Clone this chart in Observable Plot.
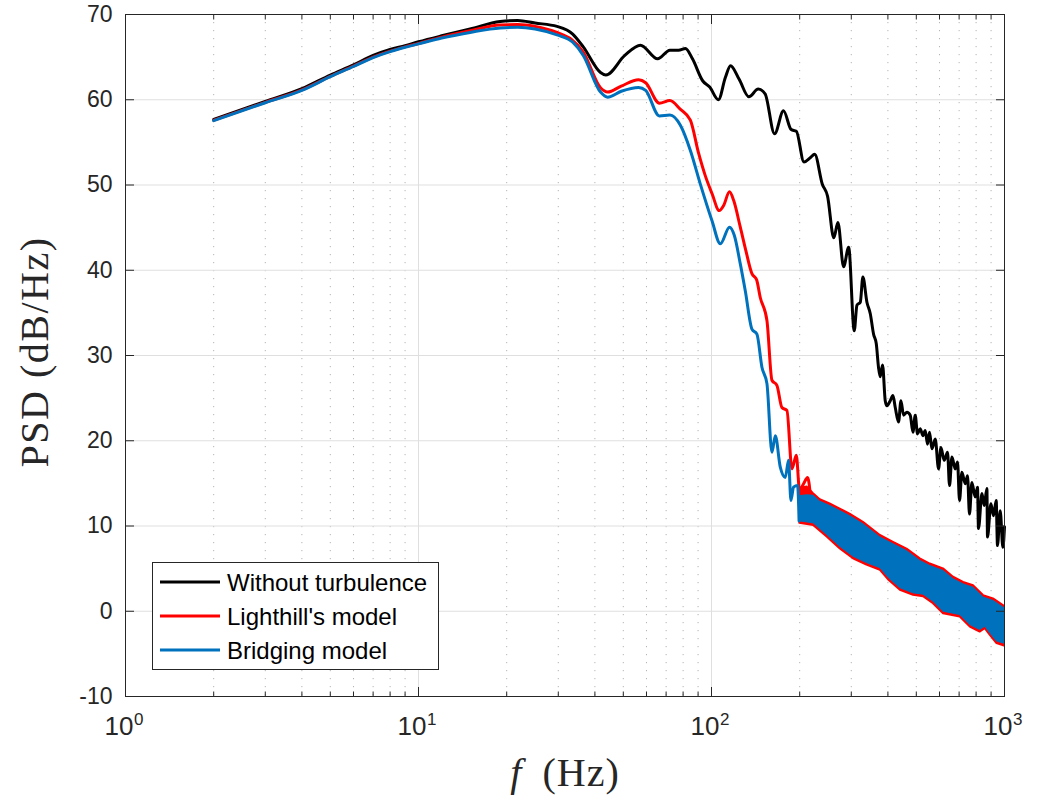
<!DOCTYPE html>
<html><head><meta charset="utf-8">
<script src="https://cdn.jsdelivr.net/npm/d3@7"></script>
<script src="https://cdn.jsdelivr.net/npm/@observablehq/plot@0.6"></script>
<style>
html,body{margin:0;padding:0;background:#fff;}
#wrap{position:relative;width:1041px;height:798px;overflow:hidden;background:#fff;}
#legend{position:absolute;left:152px;top:562px;}
</style></head>
<body><div id="wrap"></div>
<script>
// ---- data ----
const seriesNames = ["Without turbulence", "Lighthill's model", "Bridging model"];
const seriesColors = ["#000000", "#ff0000", "#0072bd"];

const freqBlack = [2,3,4,5,6,7,8,9,10,12,15,19,21.8,25,29.7,33.6,36.5,41.8,43.6,50.6,57.2,65.5,72.1,77.2,81.5,86.1,93.4,98.6,105.6,111.5,116.1,124.3,134.1,144.4,152.4,164.1,176.1,187,194.8,206.8,217.3,225,238.9,248.9,261.5,270,282.4,293.8,307,313.6,322,328.6,339.2,348.3,357.4,365,371.6,376.6,383.5,391.7,396.9,407.4,416.1,423.8,434.9,443.2,452.3,464.5,476.7,486.9,495.8,504.8,515.6,526.7,536.3,546.1,554.8,565.4,580.3,595.5,606.8,622.7,639.1,649.2,661.6,678.9,691.2,702.2,715.5,734.4,747.7,759.5,774,794.3,808.8,815.1,837.4,852.6,870.9,874.9,898.6,917,936.7,946.4,966.7,987.4,1000];
const psdBlack = [57.7,59.8,61.3,62.9,64.1,65.2,65.9,66.35,66.8,67.5,68.3,69.18,69.3,69.0,68.6,67.7,66.2,63.2,62.9,65.2,66.4,64.8,65.8,65.8,66.0,64.8,62.2,61.5,60.0,62.6,64.0,62.4,60.35,61.25,60.7,56.0,58.7,56.5,56.3,52.7,53.2,53.6,50.1,48.7,43.8,45.6,40.4,42.7,32.9,35.9,36.25,39.2,36.25,34.9,32.5,31.4,28.6,27.5,28.9,24.7,24.1,24.7,25.3,23.9,22.2,24.7,23.0,23.35,23.0,21.0,23.0,20.8,21.4,20.6,21.2,19.6,21.0,19.05,20.2,16.7,19.2,17.7,18.65,14.75,18.1,16.7,17.5,13.0,16.3,14.95,15.9,11.4,15.1,13.4,14.55,9.7,13.8,12.4,14.4,8.7,12.6,11.2,13.0,7.7,11.8,7.5,9.9];

const freqRed = [2,3,4,5,6,7,8,9,10,12,15,19,21.8,25,29.7,33.2,36.5,41.8,44.2,49.2,56.4,59.6,66.4,72.1,78.2,84.7,90.4,95.2,100.4,106.3,110,115.2,119,125.4,131,137.4,142.5,146.7,154.6,160.8,167.2,173.9,180.9,188.2,194.7,199.8,206.2,212.8,217.3];
const psdRed = [57.6,59.7,61.15,62.75,63.95,65.0,65.7,66.2,66.6,67.35,68.1,68.78,68.82,68.6,67.9,67.1,65.6,61.4,60.9,61.6,62.35,62.0,59.6,59.9,58.9,57.6,53.7,51.1,49.0,47.0,47.6,49.2,48.2,45.05,42.3,39.6,38.9,36.8,34.1,27.1,26.5,23.9,23.55,16.7,18.3,14.2,14.95,15.7,13.8];

const freqBlue = [2,3,4,5,6,7,8,9,10,12,15,19,21.8,25,29.7,33.6,36.5,41.8,44.2,49.2,56.4,59.6,66.4,72.1,78.3,84.7,91.6,100.4,107.2,115.2,119.6,125.4,130.4,137.4,142.9,148.7,154.6,160.8,165.1,171.7,178.6,183.2,186.7,190.5,196.7,199];
const psdBlue = [57.55,59.65,61.1,62.7,63.9,64.95,65.65,66.15,66.55,67.25,67.9,68.43,68.5,68.3,67.6,66.75,65.2,60.9,60.3,61.0,61.45,61.1,58.1,58.2,57.0,54.05,50.1,45.8,43.1,45.05,44.1,40.75,37.6,33.1,32.5,28.6,26.7,18.65,20.6,16.9,15.7,17.7,13.0,14.55,14.75,10.6];

// dense oscillation above ~200 Hz: upper and lower envelopes of the band
const bandFreqUpper = [200,212,223,235,254,275,297,330,377,418,465,516,558,619,670,725,784,848,917,1000];
const bandFreqLower = [200,223,248,275,305,339,377,404,441,489,529,572,619,706,764,826,859,894,942,1000];
const redUpper  = [14.4,14.6,13.8,13.1,12.6,12.0,11.4,10.45,8.9,8.1,7.3,6.15,5.55,4.98,4.0,3.4,3.0,1.85,1.46,0.6];
const redLower  = [10.3,10.06,8.7,7.3,6.15,5.4,4.8,3.6,2.45,1.85,1.7,0.87,-0.3,-0.7,-1.87,-2.45,-2.06,-2.85,-3.8,-4.1];
const blueUpper = [13.5,13.6,13.55,12.85,12.35,11.75,11.15,10.2,8.65,7.85,7.05,5.9,5.3,4.73,3.75,3.15,2.75,1.6,1.21,0.35];
const blueLower = [10.55,10.31,8.95,7.55,6.4,5.65,5.05,3.85,2.7,2.1,1.95,1.12,-0.05,-0.45,-1.62,-2.2,-1.81,-2.6,-3.55,-3.8];

// axes
const xMajorTicks = [1,10,100,1000];
const xTickBase = ["10","10","10","10"];
const xTickExp = ["0","1","2","3"];
const xMinorTicks = [2,3,4,5,6,7,8,9,20,30,40,50,60,70,80,90,200,300,400,500,600,700,800,900];
const yTicks = [-10,0,10,20,30,40,50,60,70];
const yTickLabels = ["-10","0","10","20","30","40","50","60","70"];
const xLabelItalic = "f";
const xLabelRest = "(Hz)";
const yLabel = "PSD (dB/Hz)";

// ---- chart ----
const axisColor = "#262626";
const gridColor = "#dfdfdf";
const lw = 3;

const chart = Plot.plot({
  width: 1041, height: 798,
  marginLeft: 125, marginRight: 37, marginTop: 14, marginBottom: 102,
  x: {type: "log", domain: [1, 1000], axis: null},
  y: {domain: [-10, 70], axis: null},
  style: {fontFamily: "'Liberation Sans', Arial, sans-serif", background: "#fff", overflow: "visible"},
  marks: [
    Plot.ruleX(xMinorTicks, {stroke: "#b4b4b4", strokeWidth: 1, strokeDasharray: "1.2,6.8"}),
    Plot.ruleX(xMajorTicks, {stroke: gridColor, strokeWidth: 1}),
    Plot.ruleY(yTicks, {stroke: gridColor, strokeWidth: 1}),
    Plot.line(psdBlack, {x: freqBlack, y: psdBlack, stroke: seriesColors[0], strokeWidth: lw, strokeLinejoin: "round", curve: "monotone-x"}),
    Plot.line(psdRed, {x: freqRed, y: psdRed, stroke: seriesColors[1], strokeWidth: lw, strokeLinejoin: "round", curve: "monotone-x"}),
    Plot.area(redUpper, {x1: bandFreqUpper, y1: redUpper, x2: bandFreqLower, y2: redLower, fill: seriesColors[1], stroke: seriesColors[1], strokeWidth: 1.8, strokeLinejoin: "round"}),
    Plot.line(psdBlue, {x: freqBlue, y: psdBlue, stroke: seriesColors[2], strokeWidth: lw, strokeLinejoin: "round", curve: "monotone-x"}),
    Plot.area(blueUpper, {x1: bandFreqUpper, y1: blueUpper, x2: bandFreqLower, y2: blueLower, fill: seriesColors[2], stroke: seriesColors[2], strokeWidth: 1, strokeLinejoin: "round"}),
    Plot.frame({stroke: axisColor, strokeWidth: 1}),
    // inward ticks on all four sides
    Plot.axisX(xMajorTicks, {anchor: "bottom", tickSize: -9, fill: "none", stroke: axisColor, label: null}),
    Plot.axisX(xMajorTicks, {anchor: "top", tickSize: -9, fill: "none", stroke: axisColor, label: null}),
    Plot.axisX(xMinorTicks, {anchor: "bottom", tickSize: -4.5, fill: "none", stroke: axisColor, label: null}),
    Plot.axisX(xMinorTicks, {anchor: "top", tickSize: -4.5, fill: "none", stroke: axisColor, label: null}),
    Plot.axisY(yTicks, {anchor: "left", tickSize: -9, fill: "none", stroke: axisColor, label: null}),
    Plot.axisY(yTicks, {anchor: "right", tickSize: -9, fill: "none", stroke: axisColor, label: null}),
    Plot.axisY(yTicks, {anchor: "left", tickSize: 0, tickPadding: 13, fontSize: 23, fill: axisColor, label: null,
      tickFormat: d => yTickLabels[yTicks.indexOf(d)]}),
    // x tick labels 10^n
    Plot.text(xMajorTicks, {x: d => d, frameAnchor: "bottom", text: (d, i) => xTickBase[i], textAnchor: "end", dx: 8, dy: 38, fontSize: 26, fill: axisColor}),
    Plot.text(xMajorTicks, {x: d => d, frameAnchor: "bottom", text: (d, i) => xTickExp[i], textAnchor: "start", dx: 8.5, dy: 28, fontSize: 17, fill: axisColor})
  ]
});

const wrap = document.getElementById("wrap");
wrap.appendChild(chart);

// axis titles (serif, LaTeX-like)
const svg = d3.select(chart);
const xl = svg.append("text")
  .attr("x", 565).attr("y", 786)
  .attr("text-anchor", "middle")
  .attr("font-family", "'Liberation Serif', 'Times New Roman', serif")
  .attr("font-size", 40).attr("letter-spacing", 1).attr("fill", axisColor);
xl.append("tspan").attr("font-style", "italic").text(xLabelItalic);
xl.append("tspan").attr("dx", 20).text(xLabelRest);

svg.append("text")
  .attr("transform", "translate(48,352) rotate(-90)")
  .attr("text-anchor", "middle")
  .attr("font-family", "'Liberation Serif', 'Times New Roman', serif")
  .attr("font-size", 40).attr("letter-spacing", 1.5).attr("fill", axisColor)
  .text(yLabel);

// legend box drawn over the plot
const lg = d3.select(wrap).append("svg").attr("id", "legend")
  .attr("width", 288).attr("height", 109);
lg.append("rect").attr("x", 0.5).attr("y", 0.5).attr("width", 286).attr("height", 107)
  .attr("fill", "#fff").attr("stroke", axisColor).attr("stroke-width", 1);
const rowsY = [20, 54, 88];
seriesNames.forEach((name, i) => {
  lg.append("line").attr("x1", 8).attr("x2", 68).attr("y1", rowsY[i]).attr("y2", rowsY[i])
    .attr("stroke", seriesColors[i]).attr("stroke-width", 3);
  lg.append("text").attr("x", 75).attr("y", rowsY[i] + 9)
    .attr("font-family", "'Liberation Sans', Arial, sans-serif").attr("font-size", 24)
    .attr("fill", "#000").text(name);
});
</script>
</body></html>
